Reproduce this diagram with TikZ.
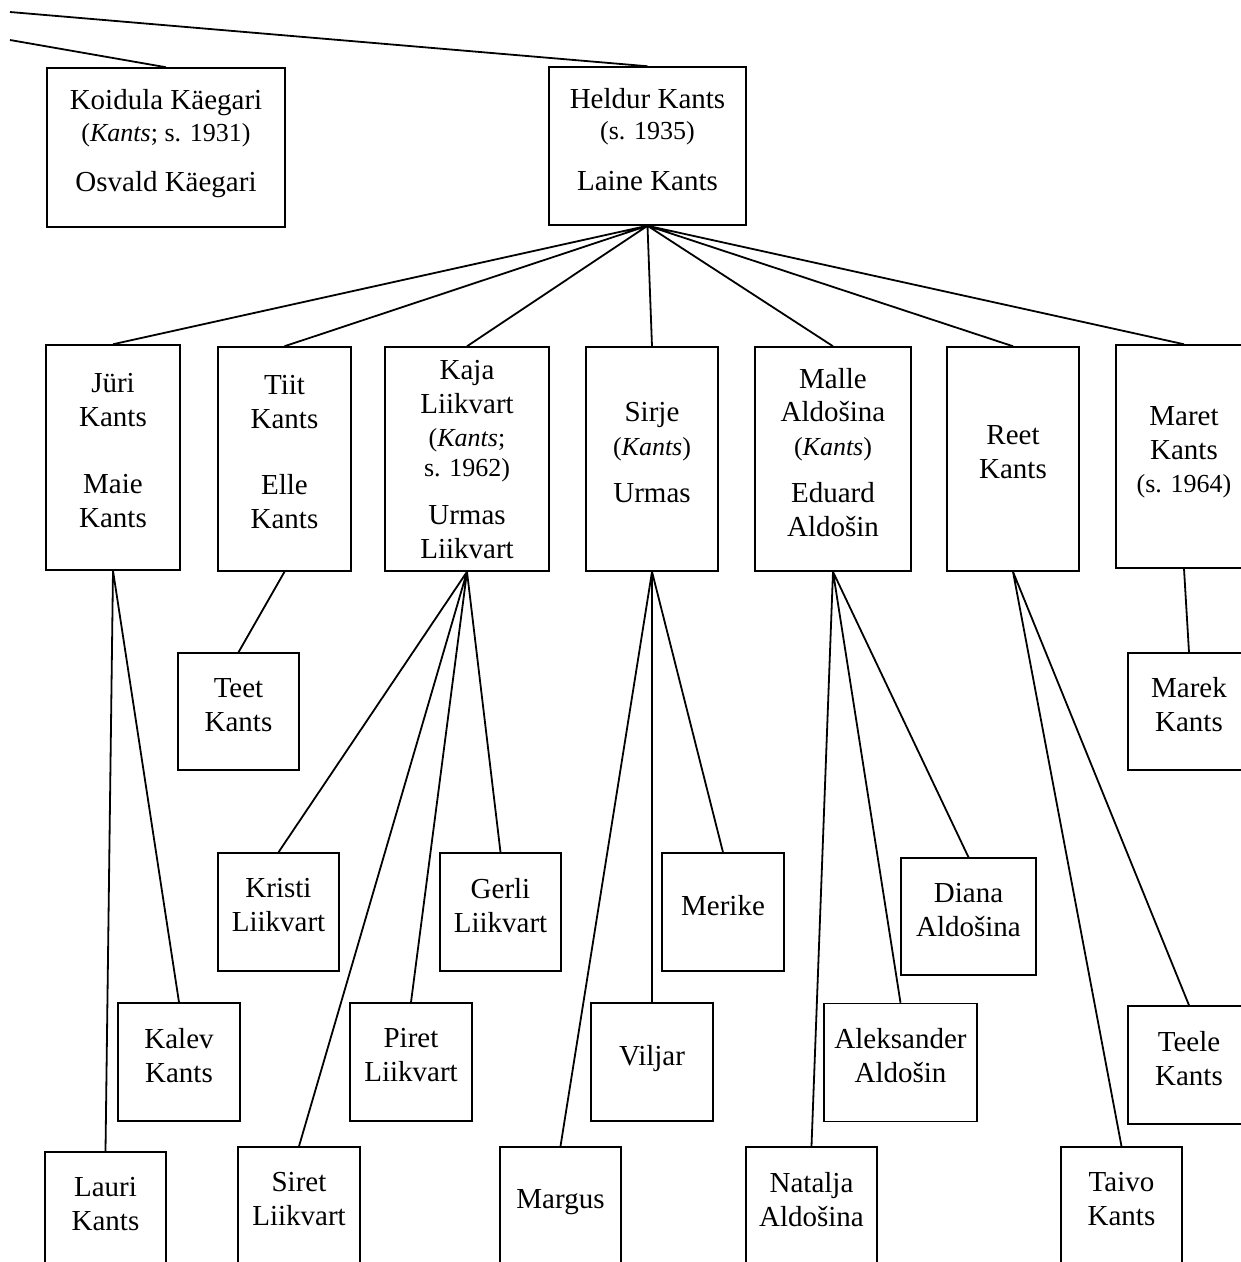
\documentclass[tikz,border=0pt]{standalone}
\usepackage{fontspec}
\setmainfont{Liberation Serif}
\newcommand\pnote[1]{{\fontsize{26}{31}\selectfont #1}}

\begin{document}
\begin{tikzpicture}[x=1pt, y=-1pt, line width=1.8pt,
   person/.style 2 args={draw, line width=1.5pt, align=center, text depth=14pt,
     minimum width=#1pt, minimum height=#2pt,
     font=\fontsize{29}{34}\selectfont}]
\useasboundingbox (0,0) rectangle (1241,1262);
\clip (0,0) rectangle (1241,1262);

% generation of the parents
\coordinate (top1) at (10,12);
\coordinate (top2) at (10,40);
\node[person={238}{159}] (koidula) at (166,147.5) {Koidula Käegari\\[-2pt]\pnote{(\textit{Kants}; s. 1931)}\\[16pt]Osvald Käegari};
\node[person={197}{158}] (heldur) at (647.5,146) {Heldur Kants\\[-3pt]\pnote{(s. 1935)}\\[17pt]Laine Kants};

% children of Heldur
\node[person={134}{225}] (juri) at (113,457.5) {Jüri\\Kants\\[33pt]Maie\\Kants};
\node[person={133}{224}] (tiit) at (284.5,459) {Tiit\\Kants\\[32pt]Elle\\Kants};
\node[person={164}{224}, text depth=0pt] (kaja) at (467,459) {Kaja\\Liikvart\\[-1pt]\pnote{(\textit{Kants};}\\[-4pt]\pnote{s. 1962)}\\[14pt]Urmas\\Liikvart};
\node[person={132}{224}] (sirje) at (652,459) {Sirje\\\pnote{(\textit{Kants})}\\[13pt]Urmas};
\node[person={156}{224}] (malle) at (833,459) {Malle\\[-1pt]Aldošina\\\pnote{(\textit{Kants})}\\[13pt]Eduard\\Aldošin};
\node[person={132}{224}] (reet) at (1013,459) {Reet\\Kants};
\node[person={136}{223}] (maret) at (1184,456.5) {Maret\\Kants\\[-1pt]\pnote{(s. 1964)}};

% grandchildren
\node[person={121}{117}] (teet) at (238.5,711.5) {Teet\\Kants};
\node[person={122}{117}] (marek) at (1189,711.5) {Marek\\Kants};
\node[person={121}{118}] (kristi) at (278.5,912) {Kristi\\Liikvart};
\node[person={121}{118}] (gerli) at (500.5,912) {Gerli\\Liikvart};
\node[person={122}{118}] (merike) at (723,912) {Merike};
\node[person={135}{117}] (diana) at (968.5,916.5) {Diana\\Aldošina};
\node[person={122}{118}] (kalev) at (179,1062) {Kalev\\Kants};
\node[person={122}{118}] (piret) at (411,1062) {Piret\\Liikvart};
\node[person={122}{118}] (viljar) at (652,1062) {Viljar};
\node[person={153}{118}] (aleksander) at (900.5,1062.5) {Aleksander\\Aldošin};
\node[person={122}{118}] (teele) at (1189,1065) {Teele\\Kants};
\node[person={121}{118}] (lauri) at (105.5,1211) {Lauri\\Kants};
\node[person={122}{118}] (siret) at (299,1206) {Siret\\Liikvart};
\node[person={121}{118}] (margus) at (560.5,1206) {Margus};
\node[person={131}{118}] (natalja) at (811.5,1206) {Natalja\\Aldošina};
\node[person={121}{118}] (taivo) at (1121.5,1206) {Taivo\\Kants};

% lines
\draw (top1) -- (heldur.north) (top2) -- (koidula.north);
\draw (heldur.south) -- (juri.north) (heldur.south) -- (tiit.north)
  (heldur.south) -- (kaja.north) (heldur.south) -- (sirje.north)
  (heldur.south) -- (malle.north) (heldur.south) -- (reet.north)
  (heldur.south) -- (maret.north);
\draw (juri.south) -- (kalev.north) (juri.south) -- (lauri.north);
\draw (tiit.south) -- (teet.north);
\draw (kaja.south) -- (kristi.north) (kaja.south) -- (gerli.north)
  (kaja.south) -- (piret.north) (kaja.south) -- (siret.north);
\draw (sirje.south) -- (merike.north) (sirje.south) -- (viljar.north)
  (sirje.south) -- (margus.north);
\draw (malle.south) -- (diana.north) (malle.south) -- (aleksander.north)
  (malle.south) -- (natalja.north);
\draw (reet.south) -- (teele.north) (reet.south) -- (taivo.north);
\draw (maret.south) -- (marek.north);
\end{tikzpicture}
\end{document}
